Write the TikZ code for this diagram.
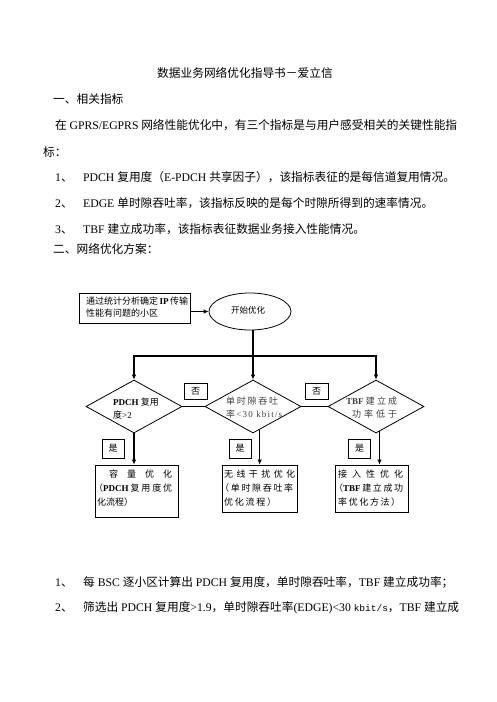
\documentclass[tikz,border=0pt]{standalone}
\usepackage{fontspec}
\setmainfont{Liberation Serif}
\newfontfamily\cjk{Noto Sans CJK SC}
\newfontfamily\monof{Liberation Mono}
\usetikzlibrary{shapes.geometric,arrows.meta}
\makeatletter
\newcommand\zs[1]{\@tfor\zz:=#1\do{\zz\hfil}}
\makeatother
\newcommand\zh[1]{{\cjk #1}}
\newcommand\zsp[1]{{\cjk\zs{#1}\unskip}}
\tikzset{
  body/.style={anchor=base west, inner sep=0pt, font=\fontsize{11.7}{14}\selectfont},
  small/.style={anchor=base west, inner sep=0pt, font=\fontsize{9}{11}\selectfont},
  grey/.style={text=black!75},
  box/.style={draw, line width=0.8pt, inner sep=0pt},
  lbl/.style={draw, line width=0.8pt, inner sep=0pt, font=\fontsize{9}{11}\selectfont\cjk},
  dia/.style={draw, diamond, line width=0.8pt, minimum width=96pt, minimum height=53pt, inner sep=0pt},
  conn/.style={line width=1.4pt},
  arr/.style={line width=1.4pt, -{Latex[length=5pt,width=4.5pt]}},
}
\begin{document}
\begin{tikzpicture}[x=1pt,y=-1pt]
\fill[white] (0,0) rectangle (496,702);
\useasboundingbox (0,0) rectangle (496,702);

% ---- text above ----
\node[body] (title) at (157,77.3) {\zh{数据业务网络优化指导书－爱立信}};
\node[body] (h1) at (53,103.8) {\zh{一、相关指标}};
\node[body] (p1) at (55,129.4) {\makebox[402pt][s]{\zh{在} GPRS/EGPRS \zsp{网络性能优化中，有三个指标是与用户感受相关的关键性能指}}};
\node[body] (p1b) at (43,156) {\zh{标：}};
\node[body] (n1) at (55,181) {1\zh{、}};
\node[body] (i1) at (83,181) {PDCH \zh{复用度（}E-PDCH \zh{共享因子），该指标表征的是每信道复用情况。}};
\node[body] (n2) at (55,207.5) {2\zh{、}};
\node[body] (i2) at (83,207.5) {EDGE \zh{单时隙吞吐率，该指标反映的是每个时隙所得到的速率情况。}};
\node[body] (n3) at (55,233.3) {3\zh{、}};
\node[body] (i3) at (83,233.3) {TBF \zh{建立成功率，该指标表征数据业务接入性能情况。}};
\node[body] (h2) at (53,253.2) {\zh{二、网络优化方案：}};

% ---- flowchart shapes ----
\node[box, minimum width=111pt, minimum height=30pt] (src) at (134.5,308) {};
\node[draw, ellipse, line width=0.8pt, minimum width=82pt, minimum height=37pt, inner sep=0pt] (start) at (250,311.5) {};
\node[dia] (d1) at (134,406.5) {};
\node[dia] (d2) at (253,406.5) {};
\node[dia] (d3) at (376,406.5) {};
\node[lbl, minimum width=23pt, minimum height=16pt] (no1) at (195.5,391) {否};
\node[lbl, minimum width=23pt, minimum height=16pt] (no2) at (316.5,391) {否};
\node[lbl, minimum width=22pt, minimum height=19pt] (yes1) at (113,448.5) {是};
\node[lbl, minimum width=22pt, minimum height=19pt] (yes2) at (240,448.5) {是};
\node[lbl, minimum width=22pt, minimum height=19pt] (yes3) at (359.5,448.5) {是};
\node[box, minimum width=83pt, minimum height=52pt] (r1) at (136.5,491) {};
\node[box, minimum width=75pt, minimum height=47pt] (r2) at (259.5,488.5) {};
\node[box, minimum width=73pt, minimum height=47pt] (r3) at (371.5,488.5) {};
\coordinate (j) at (253,356);

% ---- connectors ----
\draw[arr] (src.east |- start.west) -- (start.west);
\draw[conn] (start.south -| j) -- (j);
\draw[arr] (j) -- (d2.north);
\draw[arr] (j) -| (d1.north);
\draw[arr] (j) -| (d3.north);
\draw[conn] (d1.east) -- (d2.west);
\draw[conn] (d2.east) -- (d3.west);
\draw[arr] (d1.south) -- (d1.south |- r1.north);
\draw[arr] (d2.-74) -- (d2.-74 |- r2.north);
\draw[arr] (d3.-82) -- (d3.-82 |- r3.north);

% ---- flowchart text ----
\node[small] (s1) at (86,304) {\makebox[100pt][s]{\zsp{通过统计分析确定} \textbf{IP} \zsp{传输}}};
\node[small] (s2) at (86,316.7) {\zh{性能有问题的小区}};
\node[small, font=\fontsize{8.5}{10}\selectfont] (st) at (231,313.5) {\zh{开始优化}};
\node[small] (a1) at (113,405) {\textbf{PDCH} \zh{复用}};
\node[small] (a2) at (113,418.3) {\zh{度}>2};
\node[small, grey] (b1) at (226,404.5) {\makebox[52pt][s]{\zsp{单时隙吞吐}}};
\node[small, grey] (b2) at (226,417.5) {\makebox[56pt][s]{\zh{率}\hfil<\hfil3\hfil0\hfil\ k\hfil b\hfil i\hfil t\hfil/\hfil s}};
\node[small, grey] (c1) at (346,404.5) {\makebox[51pt][s]{\textbf{TBF}\hfil\zsp{建立成}}};
\node[small, grey] (c2) at (352,417.5) {\makebox[45pt][s]{\zsp{功率低于}}};
\node[small] (x1) at (109,477.4) {\makebox[63pt][s]{\zsp{容量优化}}};
\node[small] (x2) at (94,491.4) {\makebox[78pt][s]{\zh{（}\textbf{PDCH}\hfil\zsp{复用度优}}};
\node[small] (x3) at (97,505) {\zh{化流程）}};
\node[small] (y1) at (224,477.4) {\makebox[71pt][s]{\zsp{无线干扰优化}}};
\node[small] (y2) at (220,491.4) {\makebox[73pt][s]{\zsp{（单时隙吞吐率}}};
\node[small] (y3) at (224,505) {\makebox[52pt][s]{\zsp{优化流程）}}};
\node[small] (z1) at (338,477.4) {\makebox[65pt][s]{\zsp{接入性优化}}};
\node[small] (z2) at (334,491.4) {\makebox[69pt][s]{\zh{（}\textbf{TBF}\hfil\zsp{建立成功}}};
\node[small] (z3) at (338,505) {\makebox[62pt][s]{\zsp{率优化方法）}}};

% ---- text below ----
\node[body] (m1) at (55,586) {1\zh{、}};
\node[body] (k1) at (83,586) {\zh{每} BSC \zh{逐小区计算出} PDCH \zh{复用度，单时隙吞吐率，}TBF \zh{建立成功率；}};
\node[body] (m2) at (55,611) {2\zh{、}};
\node[body] (k2) at (83,611) {\zh{筛选出} PDCH \zh{复用度}>1.9\zh{，单时隙吞吐率}(EDGE)<30 {\monof\fontsize{9.5}{11}\selectfont kbit/s}\zh{，}TBF \zh{建立成}};
\end{tikzpicture}
\end{document}
